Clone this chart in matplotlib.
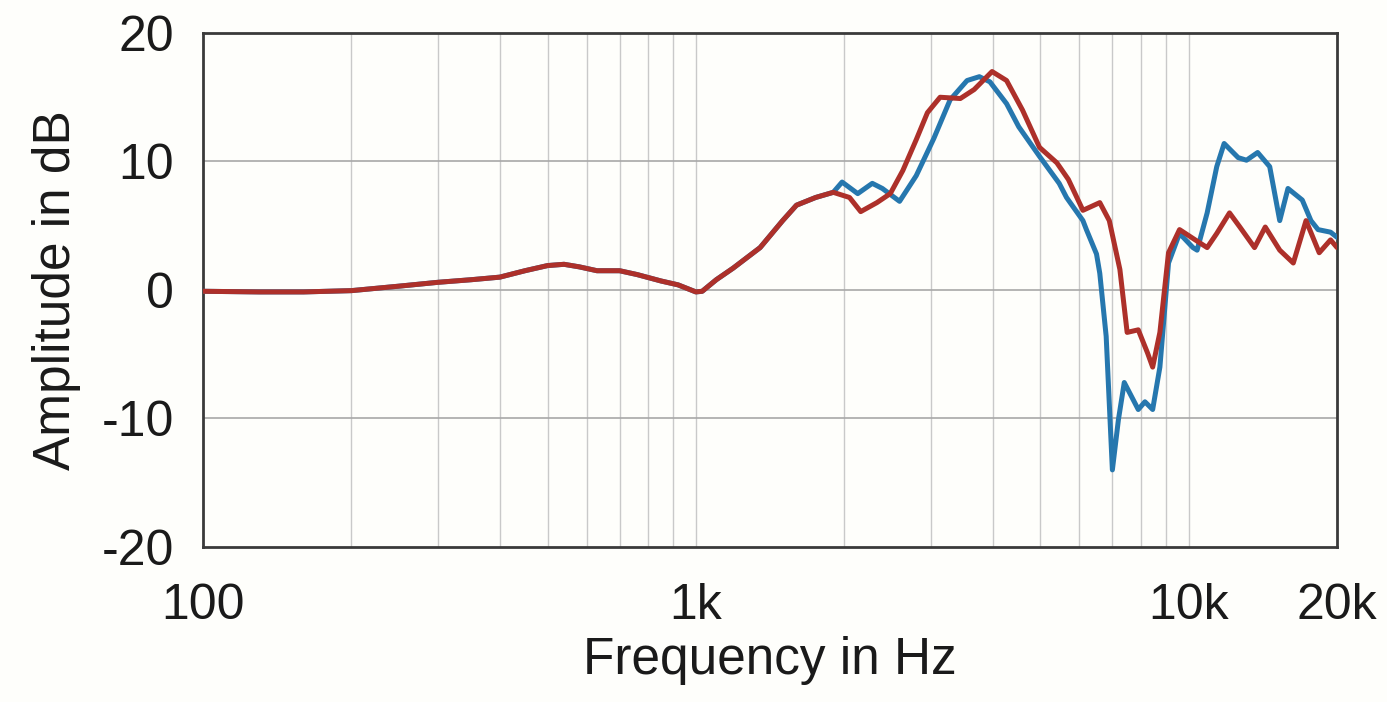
import matplotlib.pyplot as plt
from matplotlib.ticker import FixedLocator, NullFormatter

plt.rcParams['font.family'] = ['Liberation Sans', 'DejaVu Sans']

# Shared response below ~1.9 kHz (both curves coincide there)
freq_low = [100, 130, 160, 200, 250, 300, 350, 400, 450, 500, 540, 580, 630, 700,
            760, 850, 920, 1000, 1030, 1100, 1190, 1350, 1500, 1600, 1750, 1900]
amp_low = [-0.1, -0.15, -0.15, -0.05, 0.3, 0.6, 0.8, 1.0, 1.5, 1.9, 2.0, 1.8, 1.5, 1.5,
           1.2, 0.7, 0.4, -0.15, -0.1, 0.8, 1.7, 3.3, 5.4, 6.6, 7.2, 7.6]

# Blue curve above 1.9 kHz
freq_blue_hi = [1980, 2130, 2280, 2390, 2590, 2800, 3040, 3280, 3550, 3760, 3950, 4270,
                4520, 4980, 5460, 5650, 6100, 6200, 6500, 6600, 6800, 7000, 7200, 7400,
                7900, 8150, 8450, 8740, 9100, 9580, 10200, 10400, 10900, 11400, 11800,
                12600, 13100, 13800, 14600, 15300, 15900, 17000, 17700, 18300, 19400, 20000]
amp_blue_hi = [8.4, 7.5, 8.3, 7.9, 6.9, 8.9, 11.8, 14.8, 16.3, 16.6, 16.2, 14.5,
               12.7, 10.4, 8.3, 7.2, 5.4, 4.7, 2.8, 1.3, -3.6, -14.0, -10.1, -7.2,
               -9.3, -8.7, -9.3, -6.0, 2.1, 4.4, 3.3, 3.1, 6.0, 9.6, 11.4,
               10.3, 10.1, 10.7, 9.6, 5.4, 7.9, 7.0, 5.4, 4.7, 4.5, 4.1]

# Red curve above 1.9 kHz
freq_red_hi = [2050, 2160, 2330, 2480, 2630, 2800, 2950, 3130, 3440, 3670, 3990, 4270,
               4600, 4980, 5400, 5700, 6100, 6600, 6900, 7250, 7500, 7900, 8250, 8450,
               8740, 9100, 9580, 10500, 10900, 11400, 12100, 12700, 13600, 14300, 15300,
               16300, 17300, 18400, 19400, 20000]
amp_red_hi = [7.2, 6.1, 6.8, 7.5, 9.3, 11.7, 13.8, 15.0, 14.9, 15.6, 17.0, 16.3,
              14.0, 11.1, 9.9, 8.6, 6.2, 6.8, 5.4, 1.6, -3.3, -3.1, -4.9, -6.0,
              -3.3, 2.9, 4.7, 3.7, 3.3, 4.4, 6.0, 4.9, 3.3, 4.9, 3.1,
              2.1, 5.4, 2.9, 3.9, 3.3]

freq_blue = freq_low + freq_blue_hi
amp_blue = amp_low + amp_blue_hi
freq_red = freq_low + freq_red_hi
amp_red = amp_low + amp_red_hi

x_ticks = [100, 1000, 10000, 20000]
x_tick_labels = ['100', '1k', '10k', '20k']
y_ticks = [-20, -10, 0, 10, 20]
grid_freqs = [f * d for d in (100, 1000) for f in range(2, 10)] + [1000, 10000]

bg = '#fefefb'
fig = plt.figure(figsize=(13.87, 7.02), dpi=100, facecolor=bg)
ax = fig.add_axes([0.1464, 0.2208, 0.8176, 0.7322], facecolor=bg)

ax.set_xscale('log')
ax.set_xlim(100, 20000)
ax.set_ylim(-20, 20)

# grid: light verticals at every 1-2-3..9 step, darker horizontals every 10 dB
for f in grid_freqs:
    ax.axvline(f, color='#c9c9c9', lw=1.0, zorder=1)
for y in (-10, 0, 10):
    ax.axhline(y, color='#a8a8a8', lw=1.2, zorder=1)

ax.plot(freq_blue, amp_blue, color='#2677ae', lw=3.6, solid_joinstyle='round',
        solid_capstyle='round', zorder=3)
ax.plot(freq_red, amp_red, color='#ad302a', lw=3.6, solid_joinstyle='round',
        solid_capstyle='round', zorder=4)

ax.xaxis.set_major_locator(FixedLocator(x_ticks))
ax.xaxis.set_minor_formatter(NullFormatter())
ax.set_xticks(x_ticks)
ax.set_xticklabels(x_tick_labels)
ax.set_yticks(y_ticks)
ax.set_yticklabels([str(v) for v in y_ticks])
ax.tick_params(axis='both', which='both', length=0, labelsize=36, colors='#1a1a1a')
ax.tick_params(axis='x', pad=26)
ax.tick_params(axis='y', pad=21)

for side in ax.spines.values():
    side.set_color('#3a3a3a')
    side.set_linewidth(2.0)

ax.set_xlabel('Frequency in Hz', fontsize=37, color='#1a1a1a')
ax.set_ylabel('Amplitude in dB', fontsize=37, color='#1a1a1a')
ax.xaxis.set_label_coords(0.5, -0.173)
ax.yaxis.set_label_coords(-0.108, 0.5)

fig.savefig('out.png', dpi=100, facecolor=bg)
